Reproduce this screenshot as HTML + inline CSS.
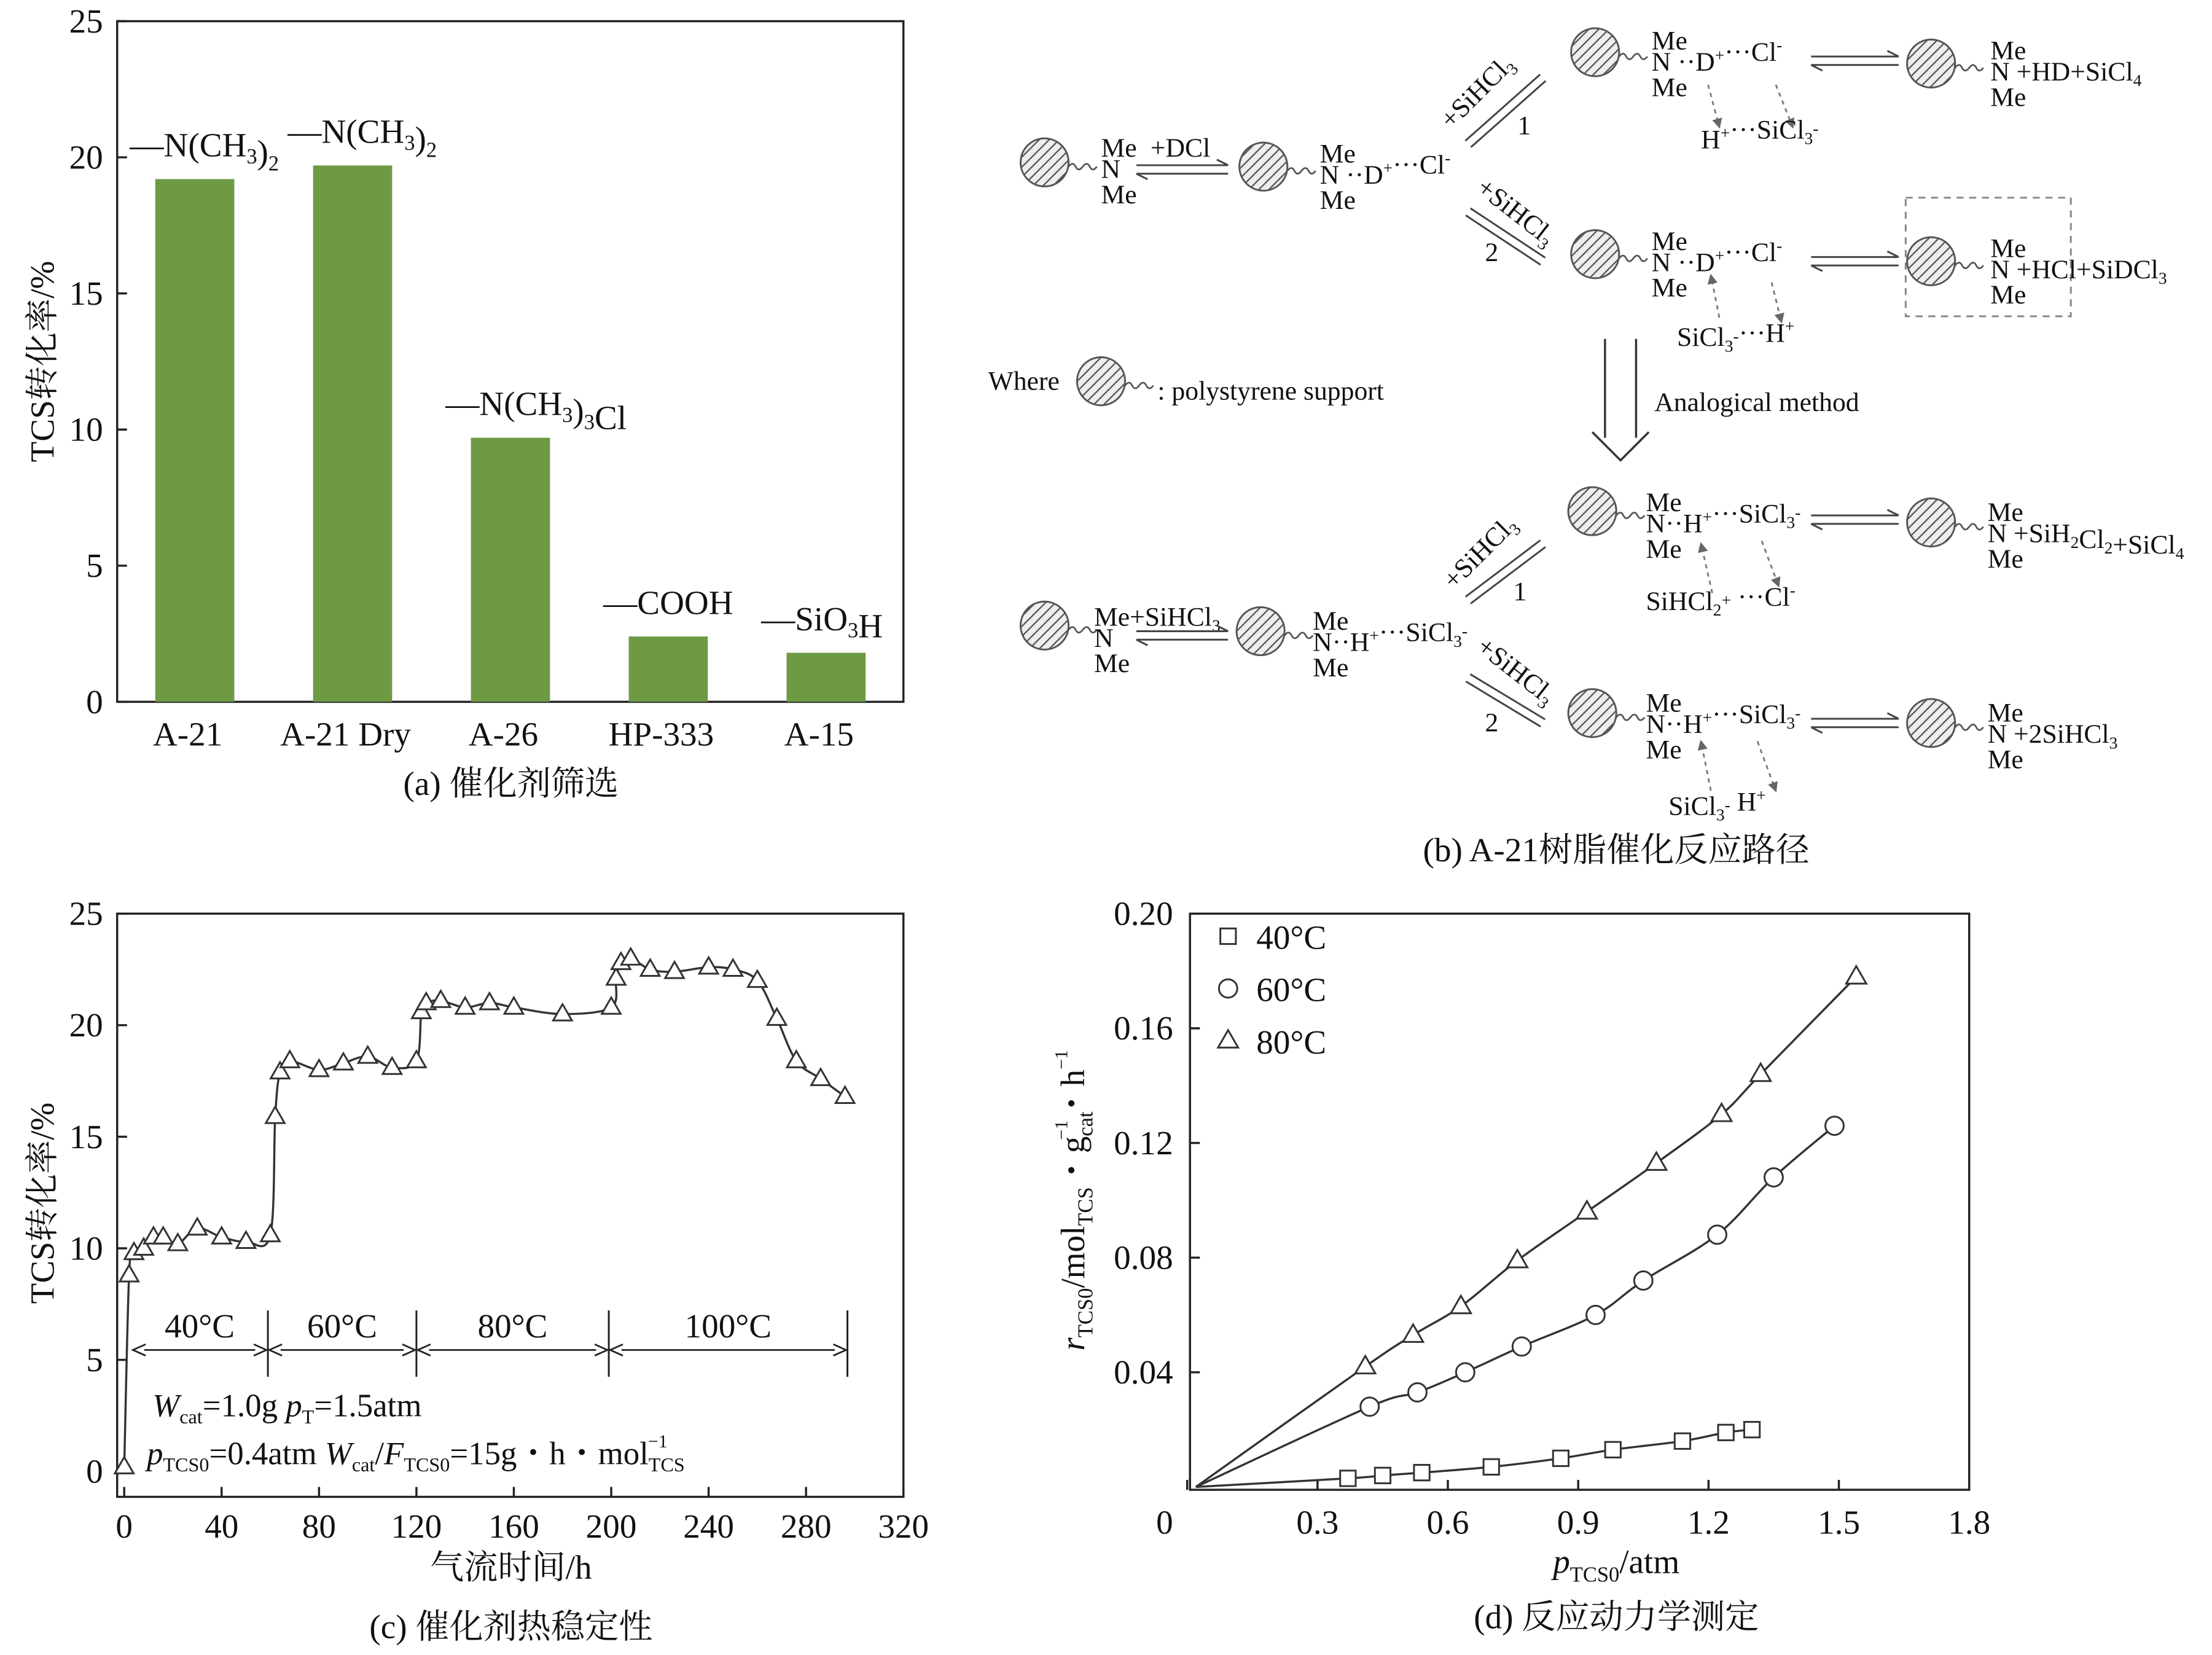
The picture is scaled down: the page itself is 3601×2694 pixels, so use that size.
<!DOCTYPE html>
<html><head><meta charset="utf-8">
<style>
html,body{margin:0;padding:0;background:#fff;}
svg{display:block;}
text{font-family:"Liberation Serif","Noto Serif CJK SC",serif;fill:#111;}
.b text{font-size:19px;}
</style></head>
<body>
<svg id="fig" width="3601" height="2694" viewBox="0 0 1567 1172" preserveAspectRatio="none" xmlns="http://www.w3.org/2000/svg">
<defs>
<pattern id="hatch" patternUnits="userSpaceOnUse" width="5" height="5" patternTransform="rotate(45)">
<rect width="5" height="5" fill="#eee"/><line x1="0" y1="0" x2="0" y2="5" stroke="#555" stroke-width="2"/>
</pattern>
<marker id="ah" markerWidth="8" markerHeight="8" refX="7" refY="4" orient="auto"><path d="M0,0 L8,4 L0,8" fill="none" stroke="#222" stroke-width="1"/></marker>
<marker id="ahs" markerWidth="6" markerHeight="6" refX="5" refY="3" orient="auto"><path d="M0,0 L6,3 L0,6 Z" fill="#666"/></marker>
</defs>

<!-- Panel a -->
<g id="pa">
<rect x="83" y="15" width="557" height="482" fill="none" stroke="#222" stroke-width="1.5"/>
<g id="pa-y"></g>
<g id="pa-bars"></g>
<text x="38" y="256" font-size="24" text-anchor="middle" transform="rotate(-90 38 256)">TCS转化率/%</text>
<text x="362" y="563" font-size="24" text-anchor="middle">(a) 催化剂筛选</text>
</g>

<!-- Panel c -->
<g id="pc">
<rect x="83" y="647" width="557" height="413" fill="none" stroke="#222" stroke-width="1.5"/>
<g id="pc-axes"></g>
<path id="pc-line" fill="none" stroke="#333" stroke-width="1.5"/>
<g id="pc-pts"></g>
<g id="pc-ann"></g>
<text x="108" y="1003" font-size="23"><tspan font-style="italic">W</tspan><tspan font-size="14" dy="5">cat</tspan><tspan dy="-5">=1.0g  </tspan><tspan font-style="italic">p</tspan><tspan font-size="14" dy="5">T</tspan><tspan dy="-5">=1.5atm</tspan></text>
<text x="104" y="1037" font-size="23"><tspan font-style="italic">p</tspan><tspan font-size="14" dy="5">TCS0</tspan><tspan dy="-5">=0.4atm  </tspan><tspan font-style="italic">W</tspan><tspan font-size="14" dy="5">cat</tspan><tspan dy="-5">/</tspan><tspan font-style="italic">F</tspan><tspan font-size="14" dy="5">TCS0</tspan><tspan dy="-5">=15g・h・mol</tspan><tspan font-size="14" dy="5">TCS</tspan><tspan font-size="13" dx="-26" dy="-17">−1</tspan></text>
<text x="38" y="852" font-size="24" text-anchor="middle" transform="rotate(-90 38 852)">TCS转化率/%</text>
<text x="362" y="1118" font-size="24" text-anchor="middle">气流时间/h</text>
<text x="362" y="1160" font-size="24" text-anchor="middle">(c) 催化剂热稳定性</text>
</g>

<!-- Panel d -->
<g id="pd">
<rect x="843" y="647" width="552" height="408" fill="none" stroke="#222" stroke-width="1.5"/>
<g id="pd-axes"></g>
<g id="pd-series"></g>
<g id="pd-legend"></g>
<text x="768" y="850" font-size="24" text-anchor="middle" transform="rotate(-90 768 850)"><tspan font-style="italic">r</tspan><tspan font-size="15" dy="6">TCS0</tspan><tspan dy="-6">/mol</tspan><tspan font-size="15" dy="6">TCS</tspan><tspan dy="-6">・g</tspan><tspan font-size="15" dy="6">cat</tspan><tspan font-size="13" dx="-20" dy="-18">−1</tspan><tspan dy="12">・h</tspan><tspan font-size="13" dy="-12">−1</tspan></text>
<text x="1145" y="1114" font-size="24" text-anchor="middle"><tspan font-style="italic">p</tspan><tspan font-size="15" dy="6">TCS0</tspan><tspan dy="-6">/atm</tspan></text>
<text x="1145" y="1153" font-size="24" text-anchor="middle">(d) 反应动力学测定</text>
</g>

<!-- Panel b -->
<g id="pb" class="b"></g>
<text x="1145" y="610" font-size="24" text-anchor="middle">(b) A-21树脂催化反应路径</text>
</svg>

<script>
const NS='http://www.w3.org/2000/svg';
function mk(parent,tag,attrs,txt){const e=document.createElementNS(NS,tag);for(const k in attrs)e.setAttribute(k,attrs[k]);if(txt!==undefined)e.textContent=txt;parent.appendChild(e);return e;}

/* ---------- Panel a data ---------- */
const aCategories=['A-21','A-21 Dry','A-26','HP-333','A-15'];
const aValues=[19.2,19.7,9.7,2.4,1.8];
const aGroups=['—N(CH3)2','—N(CH3)2','—N(CH3)3Cl','—COOH','—SiO3H'];
const aYTicks=[0,5,10,15,20,25];
(function(){
  const y=v=>497-v*(482/25), x=i=>138+i*111.8;
  const gy=document.getElementById('pa-y');
  aYTicks.forEach(t=>{
    const l=mk(gy,'line',{x1:83,x2:90,y1:y(t),y2:y(t),stroke:'#222','stroke-width':1.5});
    
    const tx=mk(gy,'text',{x:73,y:y(t)+8,'font-size':24,'text-anchor':'end'},t);
    
  });
  const gb=document.getElementById('pa-bars');
  aValues.forEach((v,i)=>{
    const r=mk(gb,'rect',{x:x(i)-28,y:y(v),width:56,height:497-y(v),fill:'#6e9a44'});
    
    
    const c=mk(gb,'text',{x:x(i)-5,y:528,'font-size':24,'text-anchor':'middle'},aCategories[i]);
    
    const g=mk(gb,'text',{x:x(i)-46,y:y(v)-16,'font-size':24});
    
    const m=aGroups[i].match(/^(.*?)(\d)?([^\d]*)(\d)?(.*)$/);
    // render subscripts for digits
    aGroups[i].split(/(\d)/).forEach(p=>{ if(!p)return; const s=mk(g,'tspan',/\d/.test(p)?{'font-size':15,dy:5}:{dy:0},p); if(/\d/.test(p)){const r2=mk(g,'tspan',{dy:-5},'');}});
  });
})();

/* ---------- Panel c data ---------- */
const cTimes=[0,2,4,8,12,16,22,30,40,50,60,62,64,68,80,90,100,110,120,122,124,130,140,150,160,180,200,202,204,208,216,226,240,250,260,268,276,286,296];
const cValues=[0.2,8.8,9.8,10,10.5,10.5,10.2,10.9,10.5,10.3,10.6,15.9,17.9,18.4,18,18.3,18.6,18.1,18.4,20.6,21,21.1,20.8,21,20.8,20.5,20.8,22.1,22.8,23,22.5,22.4,22.6,22.5,22,20.3,18.4,17.6,16.8];
const cXTicks=[0,40,80,120,160,200,240,280,320];
const cYTicks=[0,5,10,15,20,25];
const cRanges=[['40°C',3,59],['60°C',59,120],['80°C',120,199],['100°C',199,297]];
function tri(g,cx,cy,s){return mk(g,'path',{d:`M${cx},${cy-s} L${cx+s*0.95},${cy+s*0.65} L${cx-s*0.95},${cy+s*0.65} Z`,fill:'#fff',stroke:'#333','stroke-width':1.3});}
function smooth(pts){let d=`M${pts[0][0]},${pts[0][1]}`;for(let i=0;i<pts.length-1;i++){const p0=pts[i-1]||pts[i],p1=pts[i],p2=pts[i+1],p3=pts[i+2]||p2;const k=6;d+=` C${p1[0]+(p2[0]-p0[0])/k},${p1[1]+(p2[1]-p0[1])/k} ${p2[0]-(p3[0]-p1[0])/k},${p2[1]-(p3[1]-p1[1])/k} ${p2[0]},${p2[1]}`;}return d;}
(function(){
  const x=t=>88+t*(552/320), y=v=>1042-v*(395/25);
  const ga=document.getElementById('pc-axes');
  cXTicks.forEach(t=>{const l=mk(ga,'line',{x1:x(t),x2:x(t),y1:1060,y2:1053,stroke:'#222','stroke-width':1.5});
    const tx=mk(ga,'text',{x:x(t),y:1089,'font-size':24,'text-anchor':'middle'},t);});
  cYTicks.forEach(t=>{const l=mk(ga,'line',{x1:83,x2:90,y1:y(t),y2:y(t),stroke:'#222','stroke-width':1.5});
    const tx=mk(ga,'text',{x:73,y:y(t)+8,'font-size':24,'text-anchor':'end'},t);});
  const pts=cTimes.map((t,i)=>[x(t),y(cValues[i])]);
  document.getElementById('pc-line').setAttribute('d',smooth(pts));
  const gp=document.getElementById('pc-pts');
  pts.forEach(p=>{const e=tri(gp,p[0],p[1],7);});
  const gn=document.getElementById('pc-ann');
  const ay=956;
  const bounds=[59,120,199,297];
  bounds.forEach(b=>{const l=mk(gn,'line',{x1:x(b),x2:x(b),y1:928,y2:975,stroke:'#222','stroke-width':1.3});});
  cRanges.forEach(r=>{
    const x1=x(r[1])+1,x2=x(r[2])-1;
    const l=mk(gn,'line',{x1:x1+8,x2:x2-8,y1:ay,y2:ay,stroke:'#222','stroke-width':1.2});
    const h1=mk(gn,'path',{d:`M${x1+9},${ay-4} L${x1},${ay} L${x1+9},${ay+4}`,fill:'none',stroke:'#222','stroke-width':1.2});
    const h2=mk(gn,'path',{d:`M${x2-9},${ay-4} L${x2},${ay} L${x2-9},${ay+4}`,fill:'none',stroke:'#222','stroke-width':1.2});
    const t=mk(gn,'text',{x:(x1+x2)/2,y:947,'font-size':24,'text-anchor':'middle'},r[0]);
  });
})();

/* ---------- Panel d data ---------- */
const dXTicks=[0,0.3,0.6,0.9,1.2,1.5,1.8];
const dYTicks=[0.04,0.08,0.12,0.16,0.20];
const d40x=[0.37,0.45,0.54,0.70,0.86,0.98,1.14,1.24,1.30];
const d40y=[0.003,0.004,0.005,0.007,0.010,0.013,0.016,0.019,0.020];
const d60x=[0.42,0.53,0.64,0.77,0.94,1.05,1.22,1.35,1.49];
const d60y=[0.028,0.033,0.040,0.049,0.060,0.072,0.088,0.108,0.126];
const d80x=[0.41,0.52,0.63,0.76,0.92,1.08,1.23,1.32,1.54];
const d80y=[0.042,0.053,0.063,0.079,0.096,0.113,0.130,0.144,0.178];
const dSeriesNames=['40°C','60°C','80°C'];
(function(){
  const x=p=>841+p*(554/1.8), y=v=>1053-v*(406/0.2);
  const ga=document.getElementById('pd-axes');
  dXTicks.forEach(t=>{const l=mk(ga,'line',{x1:x(t),x2:x(t),y1:1055,y2:1048,stroke:'#222','stroke-width':1.5});
    const tx=mk(ga,'text',{x:t===0?825:x(t),y:1086,'font-size':24,'text-anchor':'middle'},t===0?'0':t.toFixed(1));});
  dYTicks.forEach(t=>{const l=mk(ga,'line',{x1:843,x2:850,y1:y(t),y2:y(t),stroke:'#222','stroke-width':1.5});
    const tx=mk(ga,'text',{x:831,y:y(t)+8,'font-size':24,'text-anchor':'end'},t.toFixed(2));});
  const gs=document.getElementById('pd-series');
  const sets=[[d40x,d40y,'square'],[d60x,d60y,'circle'],[d80x,d80y,'triangle']];
  function marker(g,kind,cx,cy){
    if(kind==='square')return mk(g,'rect',{x:cx-5.5,y:cy-5.5,width:11,height:11,fill:'#fff',stroke:'#333','stroke-width':1.3});
    if(kind==='circle')return mk(g,'circle',{cx:cx,cy:cy,r:6.5,fill:'#fff',stroke:'#333','stroke-width':1.3});
    return tri(g,cx,cy,7.5);
  }
  sets.forEach((s,si)=>{
    const pts=[[x(0.02),y(0)]].concat(s[0].map((v,i)=>[x(v),y(s[1][i])]));
    const p=mk(gs,'path',{d:smooth(pts),fill:'none',stroke:'#333','stroke-width':1.5});
    
    s[0].forEach((v,i)=>{const m=marker(gs,s[2],x(v),y(s[1][i]));});
  });
  const gl=document.getElementById('pd-legend');
  sets.forEach((s,i)=>{const cy=663+i*37;const m=marker(gl,s[2],870,cy);
    const t=mk(gl,'text',{x:890,y:cy+9,'font-size':24},dSeriesNames[i]);});
})();

/* ---------- Panel b scheme ---------- */
(function(){
  const g=document.getElementById('pb');
  function bead(cx,cy){
    const c=mk(g,'circle',{cx:cx,cy:cy,r:17,fill:'url(#hatch)',stroke:'#555','stroke-width':1.3});
    
    const w=mk(g,'path',{d:`M${cx+17},${cy+3} q3,-4 5,0 t5,0 t5,0 t5,0`,fill:'none',stroke:'#555','stroke-width':1.2});
    
  }
  function T(x,y,s,name,sz){const t=mk(g,'text',{x:x,y:y,'font-size':sz||19});
    s.split(/(_\d|\^[+-])/).forEach(p=>{if(!p)return;if(p[0]==='_'){mk(t,'tspan',{'font-size':12,dy:4},p[1]);mk(t,'tspan',{dy:-4},'');}else if(p[0]==='^'){mk(t,'tspan',{'font-size':12,dy:-7},p[1]);mk(t,'tspan',{dy:7},'');}else mk(t,'tspan',{},p);});return t;}
  function amine(x,y,top,mid){T(x,y-9,top||'Me','amine-me');T(x,y+6,'N'+(mid||''),'amine-n');T(x,y+24,'Me','amine-me');}
  function eq(x1,x2,y){const l=mk(g,'path',{d:`M${x1},${y-3} L${x2},${y-3} M${x2-8},${y-7} L${x2},${y-3} M${x2},${y+3} L${x1},${y+3} M${x1+8},${y+7} L${x1},${y+3}`,fill:'none',stroke:'#444','stroke-width':1.3});}
  function diag(x1,y1,x2,y2,label,num,lx,ly,ang,nx,ny){
    const dx=x2-x1,dy=y2-y1,L=Math.hypot(dx,dy),ox=-dy/L*3,oy=dx/L*3;
    const l=mk(g,'path',{d:`M${x1+ox},${y1+oy} L${x2+ox},${y2+oy} M${x2-ox},${y2-oy} L${x1-ox},${y1-oy}`,fill:'none',stroke:'#444','stroke-width':1.3});
    const t=T(lx,ly,label,'reagent-label');t.setAttribute('transform',`rotate(${ang} ${lx} ${ly})`);
    T(nx,ny,num,'branch-number',18);
  }
  function dash(x1,y1,x2,y2){const l=mk(g,'line',{x1:x1,y1:y1,x2:x2,y2:y2,stroke:'#777','stroke-width':1.2,'stroke-dasharray':'3,3','marker-end':'url(#ahs)'});}
  // Row 1
  bead(740,115);amine(780,120);T(815,111,'+DCl');eq(805,870,120);
  bead(895,118);amine(935,124,'Me',' ··D^+···Cl^-');
  diag(1040,102,1093,55,'+SiHCl_3','1',1028,92,-45,1075,95);
  bead(1130,37);amine(1170,44,'Me',' ··D^+···Cl^-');dash(1210,60,1218,90);dash(1258,60,1270,90);T(1205,105,'H^+···SiCl_3^-');
  eq(1283,1345,43);bead(1368,45);amine(1410,51,'Me','  +HD+SiCl_4');
  diag(1040,150,1093,185,'+SiHCl_3','2',1045,135,38,1052,185);
  bead(1130,180);amine(1170,186,'Me',' ··D^+···Cl^-');dash(1218,225,1212,195);dash(1255,200,1262,228);T(1188,245,'SiCl_3^-···H^+');
  eq(1283,1345,185);
  const box=mk(g,'rect',{x:1350,y:140,width:117,height:84,fill:'none',stroke:'#888','stroke-width':1.3,'stroke-dasharray':'5,4'});
  bead(1368,185);amine(1410,191,'Me','  +HCl+SiDCl_3');
  // Where
  T(700,276,'Where','legend-text');bead(780,270);T(820,283,': polystyrene support','legend-text');
  const da=mk(g,'path',{d:'M1137,240 L1137,310 M1159,240 L1159,310 M1128,306 L1148,326 L1168,306',fill:'none',stroke:'#333','stroke-width':1.5});
  T(1172,291,'Analogical method','analogy-label');
  // Row 2
  bead(740,443);amine(775,452,'Me+SiHCl_3');eq(805,870,450);
  bead(893,447);amine(930,455,'Me','··H^+···SiCl_3^-');
  diag(1040,425,1093,385,'+SiHCl_3','1',1030,418,-45,1072,425);
  bead(1128,362);amine(1166,371,'Me','··H^+···SiCl_3^-');dash(1213,420,1205,385);dash(1248,383,1260,415);T(1166,432,'SiHCl_2^+ ···Cl^-');
  eq(1283,1345,368);bead(1368,370);amine(1408,378,'Me',' +SiH_2Cl_2+SiCl_4');
  diag(1040,480,1093,512,'+SiHCl_3','2',1045,460,38,1052,518);
  bead(1128,505);amine(1166,513,'Me','··H^+···SiCl_3^-');dash(1212,560,1205,525);dash(1245,525,1258,560);T(1182,577,'SiCl_3^-    H^+');
  eq(1283,1345,512);bead(1368,512);amine(1408,520,'Me',' +2SiHCl_3');
})();
</script>
</body></html>
